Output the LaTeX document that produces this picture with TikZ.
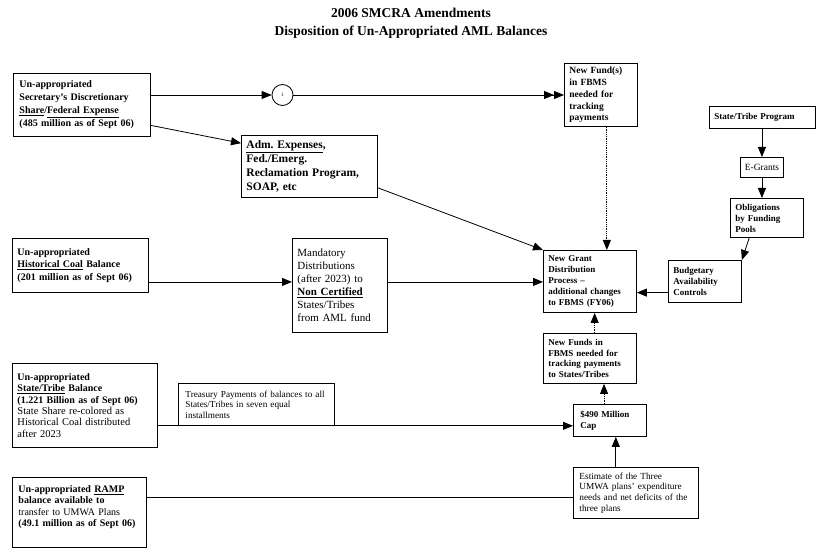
\documentclass[tikz,border=0pt]{standalone}
\usepackage{fontspec}
\setmainfont{Liberation Serif}
\usetikzlibrary{arrows.meta}
\usetikzlibrary{calc}

\begin{document}
\begin{tikzpicture}[x=1pt,y=-1pt,
        bx/.style={draw, line width=.9pt, anchor=north west, align=left,
          inner xsep=5pt, inner ysep=2pt},
        tip/.style={line width=.8pt, -{Triangle[length=10pt,width=8pt]}},
        dbltip/.style={line width=.8pt,
          -{Triangle[length=10pt,width=8pt]Triangle[length=10pt,width=8pt]}},
        plain/.style={line width=.8pt}]
        \useasboundingbox (0,0) rectangle (822,548);

        \node[font=\fontsize{13.5}{18}\selectfont\bfseries, align=center] (title) at (411,23)
          {2006 SMCRA Amendments\\Disposition of Un-Appropriated AML Balances};

        \node[bx, text width=125pt, minimum height=63pt, inner xsep=6pt,
          font=\fontsize{10}{13}\selectfont\bfseries] (secexp) at (13,73)
          {Un-appropriated\\Secretary's Discretionary\\
           \underline{Share}/\underline{Federal Expense}\\(485 million as of Sept 06)};
        \node[draw, circle, line width=.8pt, minimum size=21pt, inner sep=0pt,
          font=\fontsize{5}{5}\selectfont] (circ) at (282.5,95) {1};
        \node[bx, text width=63pt, minimum height=63pt,
          font=\fontsize{9.5}{11.8}\selectfont\bfseries] (newfund) at (564,63)
          {New Fund(s)\\in FBMS\\needed for\\tracking\\payments};
        \node[bx, text width=126pt, minimum height=62pt, inner xsep=5pt,
          font=\fontsize{11.5}{14}\selectfont\bfseries] (adm) at (241,135)
          {\underline{Adm.\ Expenses},\\Fed./Emerg.\\Reclamation Program,\\SOAP, etc};

        \node[bx, text width=96pt, minimum height=22pt,
          font=\fontsize{9}{11}\selectfont\bfseries] (stprog) at (709,106)
          {State/Tribe Program};
        \node[draw, line width=.9pt, anchor=north west, minimum width=43pt, minimum height=20pt,
          inner sep=0pt, font=\fontsize{9.5}{11}\selectfont] (egrants) at (740,157) {E-Grants};
        \node[bx, text width=63pt, minimum height=39pt,
          font=\fontsize{9}{11}\selectfont\bfseries] (oblig) at (730,198)
          {Obligations\\by Funding\\Pools};
        \node[bx, text width=63pt, minimum height=42pt,
          font=\fontsize{9}{11}\selectfont\bfseries] (budget) at (668,260)
          {Budgetary\\Availability\\Controls};

        \node[bx, text width=126pt, minimum height=54pt,
          font=\fontsize{10}{12.5}\selectfont\bfseries] (histcoal) at (12,238)
          {Un-appropriated\\\underline{Historical Coal} Balance\\(201 million as of Sept 06)};
        \node[bx, text width=85pt, minimum height=94pt,
          font=\fontsize{11}{13}\selectfont] (mand) at (292,238)
          {Mandatory\\Distributions\\(after 2023) to\\\textbf{\underline{Non Certified}}\\
           States/Tribes\\from AML fund};
        \node[bx, text width=83pt, minimum height=62pt,
          font=\fontsize{9}{10.8}\selectfont\bfseries] (newgrant) at (543,250)
          {New Grant\\Distribution\\Process --\\additional changes\\to FBMS (FY06)};
        \node[bx, text width=83pt, minimum height=50pt,
          font=\fontsize{9}{10.8}\selectfont\bfseries] (newfunds) at (543,333)
          {New Funds in\\FBMS needed for\\tracking payments\\to States/Tribes};

        \node[bx, text width=135pt, minimum height=84pt,
          font=\fontsize{10}{11.3}\selectfont] (stbal) at (12,363)
          {\textbf{Un-appropriated}\\\textbf{\underline{State/Tribe} Balance}\\
           \textbf{(1.221 Billion as of Sept 06)}\\\fontsize{10.5}{11.3}\selectfont State Share re-colored as\\
           Historical Coal distributed\\after 2023};
        \node[bx, text width=142pt, minimum height=42pt, inner xsep=7pt,
          font=\fontsize{9.2}{10.4}\selectfont] (treas) at (178,383)
          {Treasury Payments of balances to all\\States/Tribes in seven equal\\installments};
        \node[bx, text width=59pt, minimum height=32pt, inner xsep=7pt,
          font=\fontsize{9}{11.3}\selectfont\bfseries] (cap) at (573,404)
          {\$490 Million\\Cap};
        \node[bx, text width=113pt, minimum height=51pt, inner xsep=6pt,
          font=\fontsize{9.3}{10.6}\selectfont] (est) at (573,467)
          {Estimate of the Three\\UMWA plans' expenditure\\needs and net deficits of the\\three plans};
        \node[bx, text width=122pt, minimum height=70pt, inner xsep=6pt,
          font=\fontsize{10}{11.3}\selectfont] (ramp) at (12,477)
          {\rule{0pt}{12pt}\textbf{Un-appropriated \underline{RAMP}}\\\textbf{balance available to}\\
           transfer to UMWA Plans\\\textbf{(49.1 million as of Sept 06)}\rule[-18pt]{0pt}{18pt}};

        \coordinate (hc) at ($(histcoal.north east)!.8!(histcoal.south east)$);
        \coordinate (sb) at ($(stbal.north east)!.74!(stbal.south east)$);
        \coordinate (rp) at ($(ramp.north east)!.29!(ramp.south east)$);
        \coordinate (bg) at ($(budget.north west)!.76!(budget.south west)$);
        \coordinate (nf) at ($(newfund.south west)!.58!(newfund.south east)$);
        \coordinate (nu) at ($(newfunds.north west)!.55!(newfunds.north east)$);
        \coordinate (cp) at ($(cap.north west)!.42!(cap.north east)$);
        \coordinate (es) at ($(est.north west)!.34!(est.north east)$);

        \path[tip] (secexp.east |- circ) edge (circ);
        \path[dbltip] (circ) edge (circ -| newfund.west);
        \path[tip] ($(secexp.north east)!.82!(secexp.south east)$)
          edge ($(adm.north west)!.13!(adm.south west)$);
        \path[tip] ($(adm.north east)!.84!(adm.south east)$) edge (newgrant.north west);
        \path[tip, densely dotted] (nf) edge (nf |- newgrant.north);

        \path[tip] (egrants.north |- stprog.south) edge (egrants.north);
        \path[tip] (egrants.south) edge (egrants.south |- oblig.north);
        \path[tip] ($(oblig.south west)!.26!(oblig.south east)$) edge (budget.north east);
        \path[tip] (bg) edge (bg -| newgrant.east);

        \path[tip] (hc) edge (hc -| mand.west);
        \path[tip] (hc -| mand.east) edge (hc -| newgrant.west);
        \path[tip, densely dotted] (nu) edge (nu |- newgrant.south);
        \path[tip, densely dotted] (cp) edge (cp |- newfunds.south);

        \path[tip] (sb) edge (sb -| cap.west);
        \path[tip] (es) edge (es |- cap.south);
        \path[plain] (rp) edge (rp -| est.west);
      \end{tikzpicture}
\end{document}
